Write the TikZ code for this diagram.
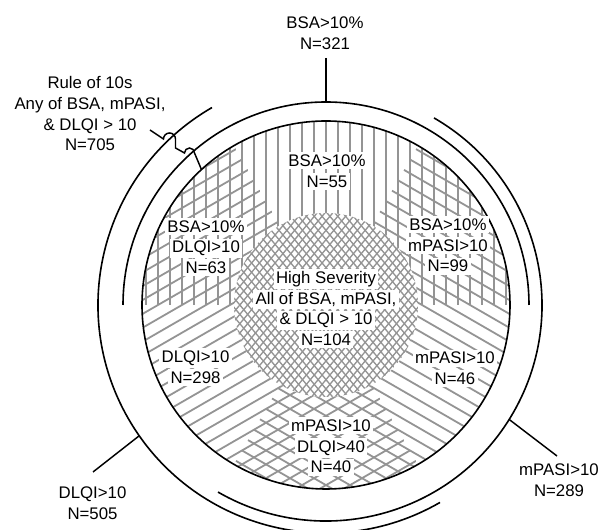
\documentclass[tikz,border=0pt]{standalone}
\usepackage{fontspec}
\setmainfont{Liberation Sans}
\newcommand{\hl}[1]{{\setlength{\fboxsep}{1.8pt}\colorbox{white}{#1}}}
\newcommand{\etiqfont}{\fontsize{12.6}{15.5}\selectfont\lineskiplimit=-20pt\relax}
\begin{document}
\begin{tikzpicture}[x=0.75pt,y=0.75pt]
\tikzset{etiq/.style={align=center, inner sep=0pt, font=\etiqfont},
  hach/.style={draw=black!42, line width=1.35pt},
  fin/.style={draw=black!42, line width=1pt},
  anneau/.style={line width=1.2pt},
  trait/.style={line width=1.1pt}}
\useasboundingbox (-326,-225) rectangle (277,305);
% hachures des trois ensembles
\foreach \rot in {0,-120,120} {
  \begin{scope}[rotate=\rot]
    \clip (0:184) arc (0:180:184) -- cycle;
    \foreach \x in {-180,-168,...,180} \draw[hach] (\x,0) -- (\x,190);
  \end{scope}
}
% centre
\fill[white] (0,0) circle (92);
\begin{scope}
  \clip (0,0) circle (92);
  \foreach \rot in {40,-40} {
    \begin{scope}[rotate=\rot]
      \foreach \x in {-96,-90,...,96} \draw[fin] (\x,-96) -- (\x,96);
    \end{scope}
  }
\end{scope}
% cercles
\draw[anneau] (0,0) circle (184);
\draw[anneau] (0:203) arc (0:180:203);
\draw[anneau] (60:216) arc (60:-120:216);
\draw[anneau] (120:228) arc (120:300:228);
% etiquettes
\node[etiq] (bsa55) at (1,134) {\hl{BSA>10\%}\\\hl{N=55}};
\node[etiq] (bsadlqi) at (-120,58) {\hl{BSA>10\%}\\\hl{DLQI>10}\\\hl{N=63}};
\node[etiq] (bsampasi) at (122,59.5) {\hl{BSA>10\%}\\\hl{mPASI>10}\\\hl{N=99}};
\node[etiq] (haute) at (0,-3.5) {\hl{High Severity}\\\hl{All of BSA, mPASI,}\\\hl{\& DLQI > 10}\\\hl{N=104}};
\node[etiq] (mpasi46) at (129,-63.5) {\hl{mPASI>10}\\\hl{N=46}};
\node[etiq] (dlqi298) at (-130.5,-62) {\hl{DLQI>10}\\\hl{N=298}};
\node[etiq] (mpasidlqi) at (5,-141.5) {\hl{mPASI>10}\\\hl{DLQI>40}\\\hl{N=40}};
\node[etiq] (bsa) at (-1,272) {BSA>10\%\\N=321};
\node[etiq] (regle) at (-236,191) {Rule of 10s\\Any of BSA, mPASI,\\\& DLQI > 10\\N=705};
\node[etiq] (dlqi) at (-233.5,-198.5) {DLQI>10\\N=505};
\node[etiq] (mpasi) at (233,-175.5) {mPASI>10\\N=289};
% traits
\coordinate (bsaBout) at (0,247);
\coordinate (bsaArc) at (90:203);
\coordinate (mpasiBout) at (231,-151);
\coordinate (mpasiArc) at (-32:216);
\coordinate (dlqiBout) at (-233,-167);
\coordinate (dlqiArc) at (215:228);
\coordinate (regleBout) at (-176,175);
\coordinate (regleFin) at (132.6:184);
\draw[trait] (bsaBout) -- (bsaArc);
\draw[trait] (mpasiBout) -- (mpasiArc);
\draw[trait] (dlqiBout) -- (dlqiArc);
\draw[trait] (regleBout) -- (-162.5,166) arc[start angle=180, end angle=0, radius=6]
  -- (-150.5,157) -- (-141.5,152) arc[start angle=180, end angle=0, radius=5] -- (regleFin);
\end{tikzpicture}
\end{document}
